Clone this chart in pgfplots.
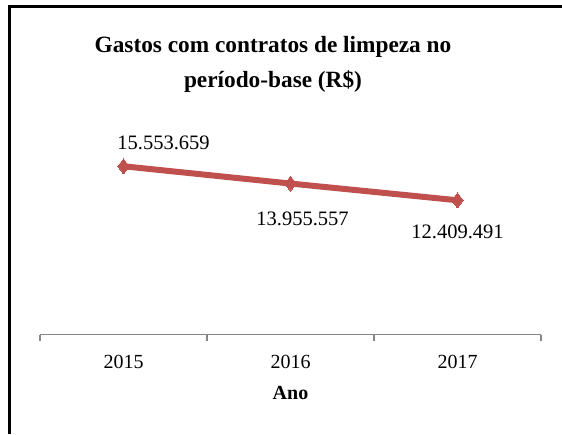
\documentclass[border=0pt]{standalone}
\usepackage{pgfplots}
\pgfplotsset{compat=1.18}
\usepackage{fontspec}
\setmainfont{Liberation Serif}
\definecolor{lred}{HTML}{C0504D}
\definecolor{axgray}{HTML}{868686}
\begin{document}
\begin{tikzpicture}
\useasboundingbox (0pt,0pt) rectangle (562pt,434pt);
\draw[line width=2.5pt] (9.5pt,0pt) -- (9.5pt,427.5pt) -- (562pt,427.5pt);
\node[font=\bfseries\fontsize{23.3}{35}\selectfont, align=center] at (273pt,370pt) {Gastos com contratos de limpeza no\\período-base (R\$)};
\begin{axis}[
  at={(40pt,99.5pt)}, anchor=south west,
  scale only axis, width=501pt, height=194.7pt,
  xmin=-0.5, xmax=2.5, ymin=0, ymax=18000000,
  axis x line*=bottom, axis y line=none,
  x axis line style={draw=axgray, line width=1.5pt, -},
  xtick={0,1,2}, xticklabels={2015,2016,2017},
  major tick length=0pt,
  extra x ticks={-0.5,0.5,1.5,2.5}, extra x tick labels={},
  extra x tick style={major tick length=6pt, tick align=outside, tick style={draw=axgray, line width=1.5pt}},
  xticklabel style={font=\fontsize{20}{24}\selectfont, inner sep=0pt, yshift=-20pt},
  xlabel={\textbf{Ano}},
  xlabel style={font=\fontsize{20}{24}\selectfont, at={(axis description cs:0.5,0)}, anchor=center, yshift=-58pt},
  clip=false,
]
\addplot[color=lred, line width=6pt, mark=diamond*, mark size=7.5pt, mark options={line width=0pt}] coordinates {(0,15553659) (1,13955557) (2,12409491)};
\node[font=\fontsize{20.5}{24}\selectfont, inner sep=0pt] at (axis cs:0,15553659) [xshift=40pt, yshift=23pt] {15.553.659};
\node[font=\fontsize{20.5}{24}\selectfont, inner sep=0pt] at (axis cs:1,13955557) [xshift=12pt, yshift=-35pt] {13.955.557};
\node[font=\fontsize{20.5}{24}\selectfont, inner sep=0pt] at (axis cs:2,12409491) [xshift=0pt, yshift=-32pt] {12.409.491};
\end{axis}
\end{tikzpicture}
\end{document}
